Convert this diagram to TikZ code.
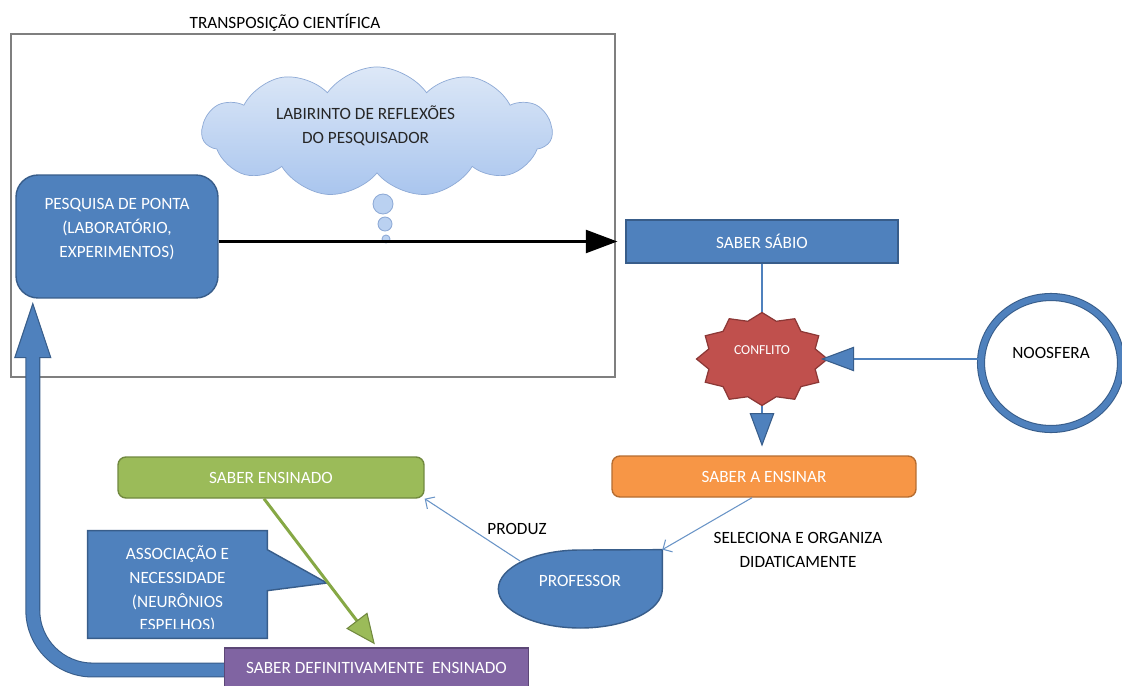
\documentclass[tikz,border=0pt]{standalone}
\usepackage{fontspec}
\setmainfont{Carlito}
\usetikzlibrary{arrows.meta,calc,shapes.symbols,shapes.geometric,backgrounds}
\definecolor{bluefill}{HTML}{4F81BD}
\definecolor{bluedark}{HTML}{385D8A}
\definecolor{redfill}{HTML}{C0504D}
\definecolor{reddark}{HTML}{8C3836}
\definecolor{orangefill}{HTML}{F79646}
\definecolor{orangedark}{HTML}{B66D31}
\definecolor{greenfill}{HTML}{9BBB59}
\definecolor{greendark}{HTML}{71893F}
\definecolor{greenline}{HTML}{86A845}
\definecolor{purplefill}{HTML}{8064A2}
\definecolor{purpledark}{HTML}{5C4776}
\definecolor{cloudtop}{HTML}{DDE8F7}
\definecolor{cloudbot}{HTML}{A9C5EE}
\definecolor{cloudline}{HTML}{8EAAD6}
\definecolor{framegray}{HTML}{7F7F7F}

\tikzset{
  box/.style={draw, line width=0.8pt, text=white, inner sep=0pt, align=center},
  bluebox/.style={box, fill=bluefill, draw=bluedark},
  bubble/.style={draw=cloudline, fill=cloudbot!80!white, line width=0.5pt},
  blackarrow/.style={draw=black, line width=1.7pt, -{Triangle[length=18pt,width=13pt]}},
  blueline/.style={draw=bluefill, line width=1.1pt},
  bluearrow/.style={blueline, -{Triangle[length=19pt,width=14pt,line width=0.6pt,color=bluedark,fill=bluefill]}},
  thinarrow/.style={draw=bluefill!85!white, line width=0.6pt, -{Straight Barb[length=4pt,width=8pt]}},
  greenarrow/.style={draw=greenline, line width=1.7pt, -{Triangle[length=17pt,width=15pt,line width=0.6pt,color=greendark,fill=greenfill]}}
}

\begin{document}
\begin{tikzpicture}[x=0.02cm, y=-0.02cm, font=\fontsize{9.8}{13.5}\selectfont]
    \useasboundingbox (0,0) rectangle (1122,686);

    % upper part
    \node (titulo) at (285,23) {TRANSPOSIÇÃO CIENTÍFICA};
    \node[cloud, cloud puffs=11, cloud puff arc=110, cloud ignores aspect, minimum width=7cm, minimum height=2.2cm,
      draw=cloudline, top color=cloudtop, bottom color=cloudbot, align=center, text=black!85, text depth=8pt] (nuvem) at (377,132)
      {LABIRINTO DE REFLEXÕES\hspace*{13pt}\\DO PESQUISADOR\hspace*{13pt}};
    \foreach \x/\y/\r in {383/204/10, 385/224/7, 386/239/4}
      \draw[bubble] (\x,\y) circle[radius=\r];
    \node[bluebox, rounded corners=12.5pt, minimum width=4.04cm, minimum height=2.46cm, text depth=10pt] (pesquisa) at (117,236.5)
      {PESQUISA DE PONTA\\(LABORATÓRIO,\\EXPERIMENTOS)};
    \node[bluebox, minimum width=5.44cm, minimum height=0.86cm] (sabio) at (762,241.5) {SABER SÁBIO};

    % right part
    \node[ellipse, minimum width=2.62cm, minimum height=1.86cm, inner sep=0pt, text=white, text depth=10pt,
      font=\fontsize{7.8}{9}\selectfont] (conflito) at (762,359) {CONFLITO};
    \node[ellipse, draw=bluedark, double=bluefill, double distance=3.4pt, line width=0.6pt, text depth=11pt,
      minimum width=2.8cm, minimum height=2.64cm, inner sep=0pt] (noosfera) at (1051,363) {NOOSFERA};
    \node[box, fill=orangefill, draw=orangedark, rounded corners=4.5pt, minimum width=6.08cm, minimum height=0.82cm]
      (ensinar) at (764,476.5) {SABER A ENSINAR};
    \node[align=center] (seleciona) at (798,550) {SELECIONA E ORGANIZA\\DIDATICAMENTE};
    \node[minimum width=3.28cm, minimum height=1.56cm, inner sep=0pt, text=white, text depth=9pt] (professor) at (580,589) {PROFESSOR};
    \node (produz) at (517,529) {PRODUZ};

    % lower left part
    \node[box, fill=greenfill, draw=greendark, rounded corners=4.5pt, minimum width=6.12cm, minimum height=0.82cm]
      (ensinado) at (271,477.5) {SABER ENSINADO};
    \begin{scope}
      \clip (88,531) rectangle (267,628);
      \node[text=white, align=center, minimum width=3.58cm, minimum height=2.14cm, inner sep=0pt, text height=54pt] (assoc) at (177.5,584.5)
        {ASSOCIAÇÃO E\\NECESSIDADE\\(NEURÔNIOS\\ESPELHOS)};
    \end{scope}
    \coordinate (calltip) at (327,583);
    \node[box, fill=purplefill, draw=purpledark, minimum width=6.08cm, minimum height=0.8cm]
      (sdef) at (376.5,668) {SABER DEFINITIVAMENTE\ \ ENSINADO};
    \coordinate (utip) at ($(pesquisa.south west)+(17.5,5)$);
    \coordinate (greentip) at ($(sdef.north west)+(151,-3)$);

    \begin{scope}[on background layer]
      \fill[white] (0,0) rectangle (1122,686);
      \draw[framegray, line width=1.2pt] (11,34) rectangle (615,377);
      % return arrow
      \draw[line width=8.5pt, bluedark, rounded corners=34pt] ($(sdef.west)+(2,2)$) -- ($(utip |- sdef.west)+(0,2)$) -- ($(utip)+(0,50)$);
      \draw[fill=bluefill, draw=bluedark, line width=0.6pt] (utip) -- ($(utip)+(18,54)$) -- ($(utip)+(-18,54)$) -- cycle;
      \draw[line width=7.3pt, bluefill, rounded corners=34pt] ($(sdef.west)+(3,2)$) -- ($(utip |- sdef.west)+(0,2)$) -- ($(utip)+(0,48)$);
      % star
      \begin{scope}[shift={(conflito.center)}]
        \draw[fill=redfill, draw=reddark, line width=0.7pt] (65.5,0)
          \foreach \k in {1,...,23}{ -- ({\k*15}:{65.5*(1-0.16*mod(\k,2))} and {46.5*(1-0.16*mod(\k,2))}) } -- cycle;
      \end{scope}
      % teacher shape
      \draw[fill=bluefill, draw=bluedark, line width=0.8pt] (professor.north east) -- (professor.east)
        arc[start angle=0, end angle=270, x radius=82, y radius=39] -- cycle;
      % callout
      \draw[fill=bluefill, draw=bluedark, line width=0.8pt] (assoc.north west) -- (assoc.north east)
        -- ($(assoc.north east)+(0,19)$) -- (calltip) -- ($(assoc.north east)+(0,60)$) -- (assoc.south east)
        -- (assoc.south west) -- cycle;
    \end{scope}

    % connectors
    \draw[blackarrow, shorten >=4.5pt] (pesquisa.east |- sabio.west) -- (sabio.west);
    \draw[blueline] (sabio.south) -- (conflito.north);
    \draw[bluearrow, shorten >=5pt] (conflito.south) -- (conflito.south |- ensinar.north);
    \draw[bluearrow] (noosfera.west |- conflito.east) -- ($(conflito.east)+(-7,0)$);
    \draw[thinarrow] ($(ensinar.south)+(-12,0)$) -- (professor.north east);
    \draw[thinarrow] ($(professor.center)+(-60,-28)$) -- (ensinado.south east);
    \draw[greenarrow] ($(ensinado.south)+(-7,0)$) -- (greentip);
\end{tikzpicture}
\end{document}
